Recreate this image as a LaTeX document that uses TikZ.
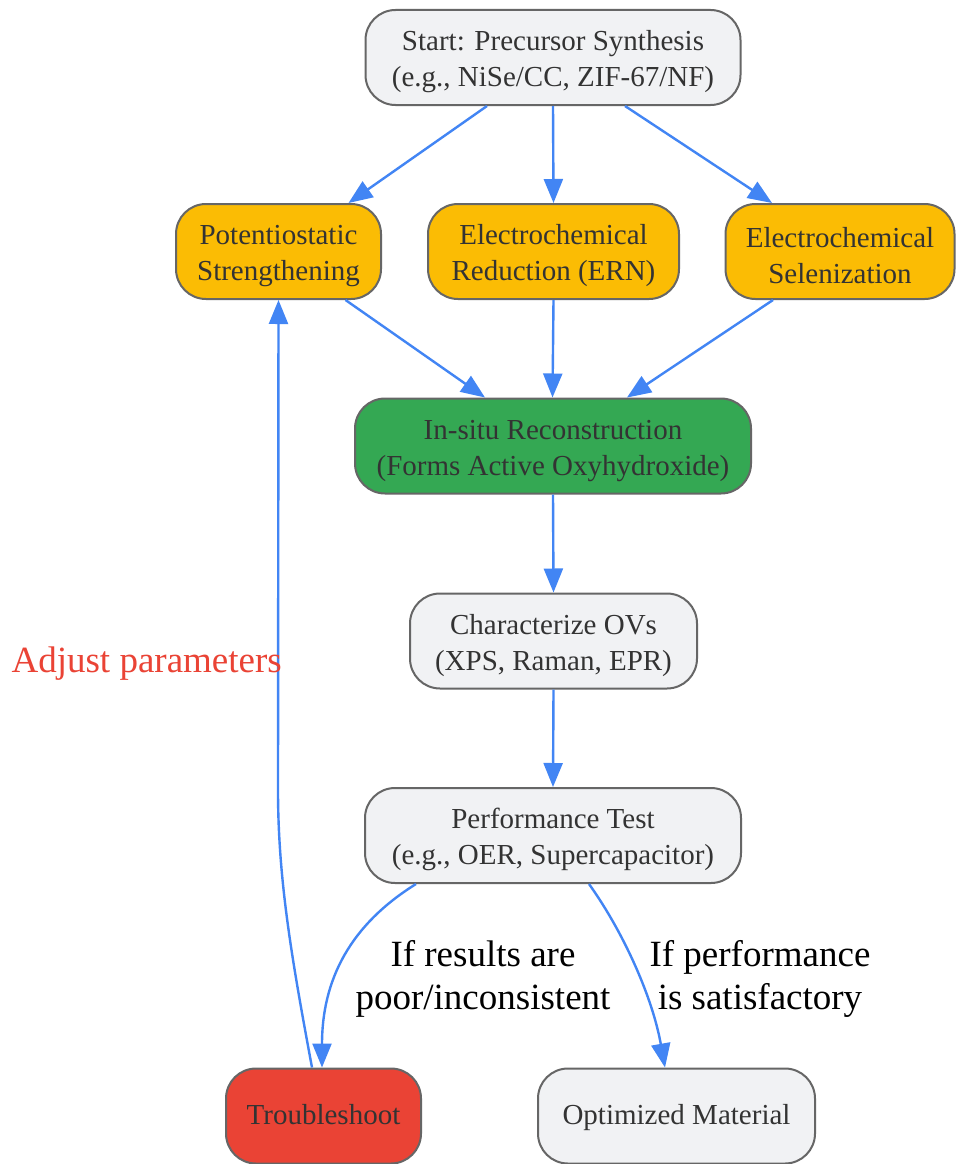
\documentclass[tikz,border=0pt]{standalone}
\usepackage{fontspec}
\setmainfont{Liberation Serif}
\usetikzlibrary{arrows.meta}
\definecolor{nodegrey}{HTML}{F1F2F4}
\definecolor{nodeorange}{HTML}{FBBC04}
\definecolor{nodegreen}{HTML}{34A853}
\definecolor{nodered}{HTML}{EA4335}
\definecolor{edgeblue}{HTML}{4285F4}
\definecolor{bordergrey}{HTML}{666666}
\definecolor{textdark}{HTML}{333333}
\newcommand{\mytopstrut}{\rule{0pt}{29pt}}
\tikzset{
  box/.style={draw=bordergrey, line width=2pt, rounded corners=30pt, align=center,
    text=textdark, inner sep=2pt, font=\fontsize{29}{36}\selectfont, minimum height=95pt},
  onebox/.style={text height=22pt, text depth=6pt},
  greybox/.style={box, fill=nodegrey},
  orangebox/.style={box, fill=nodeorange},
  greenbox/.style={box, fill=nodegreen},
  redbox/.style={box, fill=nodered},
  conn/.style={draw=edgeblue, line width=2.4pt, -{Triangle[length=24pt,width=19pt]}},
  elabel/.style={align=center, font=\fontsize{37}{43}\selectfont, text=black, inner sep=0pt},
}
\begin{document}
\begin{tikzpicture}[x=1pt,y=-1pt]
\useasboundingbox (0,0) rectangle (956,1164);
\fill[white] (0,0) rectangle (956,1164);

\node[greybox, minimum width=375pt] (start) at (553,57.5) {\mytopstrut Start: Precursor Synthesis\\(e.g., NiSe/CC, ZIF-67/NF)};
\node[orangebox, minimum width=205pt] (pot) at (278.5,251.5) {\mytopstrut Potentiostatic\\Strengthening};
\node[orangebox, minimum width=251pt] (ern) at (553.5,251.5) {\mytopstrut Electrochemical\\Reduction (ERN)};
\node[orangebox, minimum width=229pt] (sel) at (840,251.5) {\mytopstrut Electrochemical\\Selenization};
\node[greenbox, minimum width=396pt] (insitu) at (553,446) {\mytopstrut In-situ Reconstruction\\(Forms Active Oxyhydroxide)};
\node[greybox, minimum width=287pt] (char) at (553.5,641) {\mytopstrut Characterize OVs\\(XPS, Raman, EPR)};
\node[greybox, minimum width=376pt] (perf) at (553,835.5) {\mytopstrut Performance Test\\(e.g., OER, Supercapacitor)};
\node[redbox, onebox, minimum width=195pt] (trouble) at (323.5,1116) {Troubleshoot};
\node[greybox, onebox, minimum width=277pt] (opt) at (676.5,1116) {Optimized Material};

\draw[conn] ([xshift=-66pt]start.south) -- ([xshift=70pt]pot.north);
\draw[conn] (start.south) -- (ern.north);
\draw[conn] ([xshift=72pt]start.south) -- ([xshift=-68pt]sel.north);

\draw[conn] ([xshift=67pt]pot.south) -- ([xshift=-68pt]insitu.north);
\draw[conn] (ern.south) -- ([xshift=-0.5pt]insitu.north);
\draw[conn] ([xshift=-67pt]sel.south) -- ([xshift=74pt]insitu.north);

\draw[conn] (insitu.south) -- (char.south |- char.north);
\draw[conn] (char.south) -- (perf.north);

\draw[conn] ([xshift=-137pt]perf.south) .. controls (350,925) and (322,980) .. ([xshift=-1.5pt]trouble.north);
\draw[conn] ([xshift=36pt]perf.south) .. controls (622,930) and (652,995) .. ([xshift=-11.5pt]opt.north);
\draw[conn] ([xshift=-11.5pt]trouble.north) .. controls (292,960) and (278,880) .. (278,790) -- (pot.south);

\node[elabel] (lpoor) at (483,979) {If results are\\poor/inconsistent};
\node[elabel] (lsat) at (760,979) {If performance\\is satisfactory};
\node[elabel, text=nodered, anchor=east] (ladj) at (282,664) {Adjust parameters};
\end{tikzpicture}
\end{document}
